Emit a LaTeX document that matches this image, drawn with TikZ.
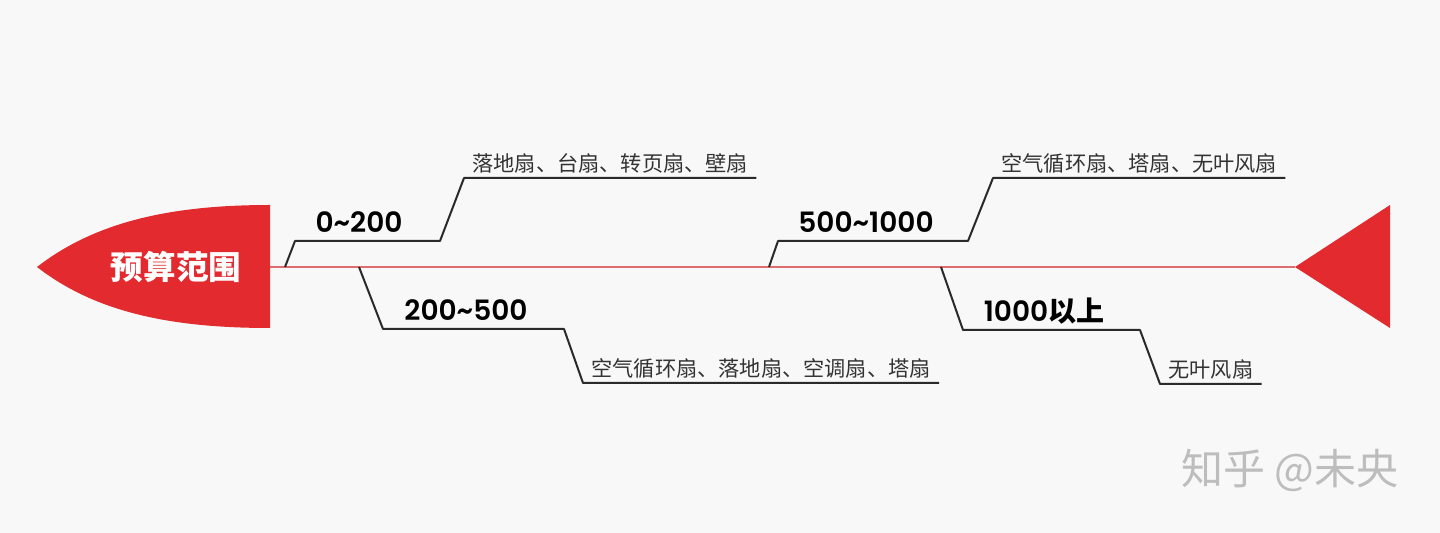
\documentclass[tikz,border=0pt]{standalone}
\usepackage{fontspec}
\setmainfont{Poppins}[BoldFont={Poppins SemiBold}]
\newfontfamily\cjk{Noto Sans CJK SC}
\usepackage{tikz}
\usetikzlibrary{positioning}

\definecolor{headred}{HTML}{E22A2F}
\definecolor{spinered}{HTML}{DE6E6E}
\definecolor{bgcolor}{HTML}{F8F8F8}
\definecolor{bonegray}{HTML}{2A2A2A}
\definecolor{textgray}{HTML}{333333}
\definecolor{markgray}{HTML}{BDBDBD}

\begin{document}
\begin{tikzpicture}[
    x=0.5pt, y=-0.5pt,
    spine/.style={draw=spinered, line width=0.7pt},
    bone/.style={draw=bonegray, line width=1pt, line join=round},
    rangetext/.style={font=\fontsize{14}{16}\selectfont\bfseries, text=black, inner sep=0pt},
    itemtext/.style={font=\cjk\fontsize{10.6}{12}\selectfont, text=textgray, inner xsep=4pt, inner ysep=2pt, anchor=south west},
    titletext/.style={font=\cjk\bfseries\fontsize{16.3}{18}\selectfont, text=white, inner sep=0pt}
]
\fill[bgcolor] (0,0) rectangle (1440,533);
\useasboundingbox (0,0) rectangle (1440,533);

% fish head and tail
\fill[headred] (37,267) .. controls (95,222) and (170,205) .. (270,205)
    -- (270,328) .. controls (170,328) and (95,312) .. cycle;
\fill[headred] (1295,267) -- (1390,205) -- (1390,328) -- cycle;
\node[titletext] (title) at (176,267) {预算范围};

\coordinate (spinestart) at (270,267);
\coordinate (tailtip) at (1295,267);
\draw[spine] (spinestart) -- (tailtip);

\coordinate (b1a) at (285,267);
\coordinate (b1b) at (295,241);
\coordinate (b1c) at (440,241);
\coordinate (b2a) at (359,267);
\coordinate (b2b) at (383,329);
\coordinate (b2c) at (564,329);
\coordinate (b3a) at (769,267);
\coordinate (b3b) at (778,241);
\coordinate (b3c) at (968,241);
\coordinate (b4a) at (941,267);
\coordinate (b4b) at (963,330);
\coordinate (b4c) at (1140,330);

\node[itemtext] (t1) at (464,178) {落地扇、台扇、转页扇、壁扇};
\node[itemtext] (t2) at (583,383) {空气循环扇、落地扇、空调扇、塔扇};
\node[itemtext] (t3) at (993,178) {空气循环扇、塔扇、无叶风扇};
\node[itemtext] (t4) at (1160,384) {无叶风扇};

\draw[bone] (b1a) -- (b1b) -- (b1c) -- (t1.south west) -- (t1.south east);
\draw[bone] (b2a) -- (b2b) -- (b2c) -- (t2.south west) -- (t2.south east);
\draw[bone] (b3a) -- (b3b) -- (b3c) -- (t3.south west) -- (t3.south east);
\draw[bone] (b4a) -- (b4b) -- (b4c) -- (t4.south west) -- (t4.south east);

\node[rangetext] (r1) at (359,222) {0\char`\~200};
\node[rangetext] (r2) at (466,310) {200\char`\~500};
\node[rangetext] (r3) at (866,222) {500\char`\~1000};
\node[rangetext] (r4) at (1044,311) {1000{\cjk\bfseries 以上}};

\node[font=\cjk\fontsize{21}{24}\selectfont, text=markgray] (mark) at (1290,470) {知乎 @未央};
\end{tikzpicture}
\end{document}
